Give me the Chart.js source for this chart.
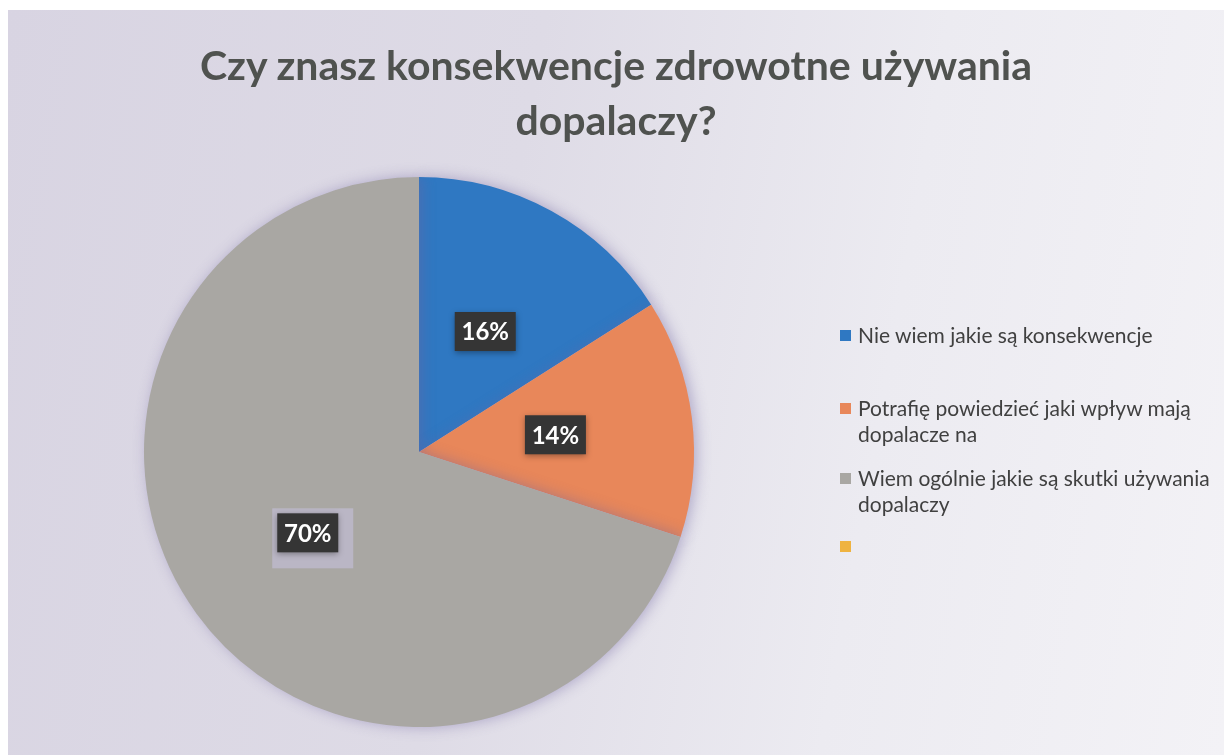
<!DOCTYPE html>
<html>
<head>
<meta charset="utf-8">
<script src="https://cdn.jsdelivr.net/npm/chart.js@4/dist/chart.umd.min.js"></script>
<style>
    body { margin: 0; background: #fff; }
    #wrap {
        position: absolute; left: 8px; top: 10px; width: 1216px; height: 745px;
        background: linear-gradient(100deg, #d8d4e2 0%, #dedbe6 40%, #ecebf1 70%, #f3f2f6 100%);
    }
    #chart { position: absolute; left: -8px; top: -10px; }
    #title {
        position: absolute; left: 0; top: 27px; width: 1216px; text-align: center;
        font-family: Lato, "Open Sans", sans-serif; font-weight: bold; font-size: 41px;
        line-height: 55px; color: #4f524f;
    }
    #legend { position: absolute; left: 832px; top: 300px; font-family: Lato, "Open Sans", sans-serif; font-size: 21px; color: #404040; }
    .item { position: absolute; padding-left: 18px; line-height: 26px; white-space: nowrap; }
    .item span.sw { position: absolute; left: 0; top: 8px; width: 11px; height: 11px; }
</style>
</head>
<body>
<div id="wrap">
    <canvas id="chart" width="1224" height="755"></canvas>
    <div id="title"></div>
    <div id="legend"></div>
</div>
<script>
const title = ['Czy znasz konsekwencje zdrowotne używania', 'dopalaczy?']
const labels = [
    ['Nie wiem jakie są konsekwencje'],
    ['Potrafię powiedzieć jaki wpływ mają', 'dopalacze na'],
    ['Wiem ogólnie jakie są skutki używania', 'dopalaczy'],
    ['']
]
const values = [16, 14, 70, 0]
const colors = ['#2f78c2', '#e8875a', '#a9a7a3', '#efb341']
const legendTops = [12, 85, 155, 223]

// shadow around the pie
const pieShadow = {
    id: 'pieShadow',
    beforeDatasetsDraw(chart) {
        chart.ctx.save()
        chart.ctx.shadowColor = 'rgba(110, 100, 160, 0.45)'
        chart.ctx.shadowBlur = 14
        chart.ctx.shadowOffsetX = 3
    },
    afterDatasetsDraw(chart) {
        chart.ctx.restore()
    }
}

// dark boxed percentage labels
const boxLabels = {
    id: 'boxLabels',
    afterDatasetsDraw(chart) {
        const ctx = chart.ctx
        const meta = chart.getDatasetMeta(0)
        meta.data.forEach((arc, i) => {
            if (!values[i]) return
            const p = arc.tooltipPosition()
            const w = 61, h = 39
            ctx.save()
            if (i == 2) {
                ctx.fillStyle = 'rgba(200, 195, 225, 0.55)'
                ctx.fillRect(p.x - w / 2 - 5, p.y - h / 2 - 5, 81, 60)
            }
            ctx.shadowColor = 'rgba(0,0,0,0.35)'
            ctx.shadowBlur = 6
            ctx.shadowOffsetY = 2
            ctx.fillStyle = '#353535'
            ctx.fillRect(p.x - w / 2, p.y - h / 2, w, h)
            ctx.shadowColor = 'transparent'
            ctx.fillStyle = '#ffffff'
            ctx.font = 'bold 24px Lato, "Open Sans", sans-serif'
            ctx.textAlign = 'center'
            ctx.textBaseline = 'middle'
            ctx.fillText(values[i] + '%', p.x, p.y + 1)
            ctx.restore()
        })
    }
}

const chart = new Chart(document.getElementById('chart'), {
    type: 'pie',
    data: {
        labels: labels.map(l => l.join(' ')),
        datasets: [{
            data: values,
            backgroundColor: colors,
            borderWidth: 0
        }]
    },
    options: {
        responsive: false,
        animation: false,
        layout: { padding: { left: 144, right: 530, top: 177, bottom: 28 } },
        plugins: {
            legend: { display: false },
            tooltip: { enabled: false }
        }
    },
    plugins: [pieShadow, boxLabels]
})

document.getElementById('title').innerHTML = title.join('<br>')

const legend = document.getElementById('legend')
labels.forEach((l, i) => {
    const div = document.createElement('div')
    div.className = 'item'
    div.style.top = legendTops[i] + 'px'
    div.innerHTML = '<span class="sw" style="background:' + colors[i] + '"></span>' + (l.join('<br>') || '&nbsp;')
    legend.appendChild(div)
})
</script>
</body>
</html>
